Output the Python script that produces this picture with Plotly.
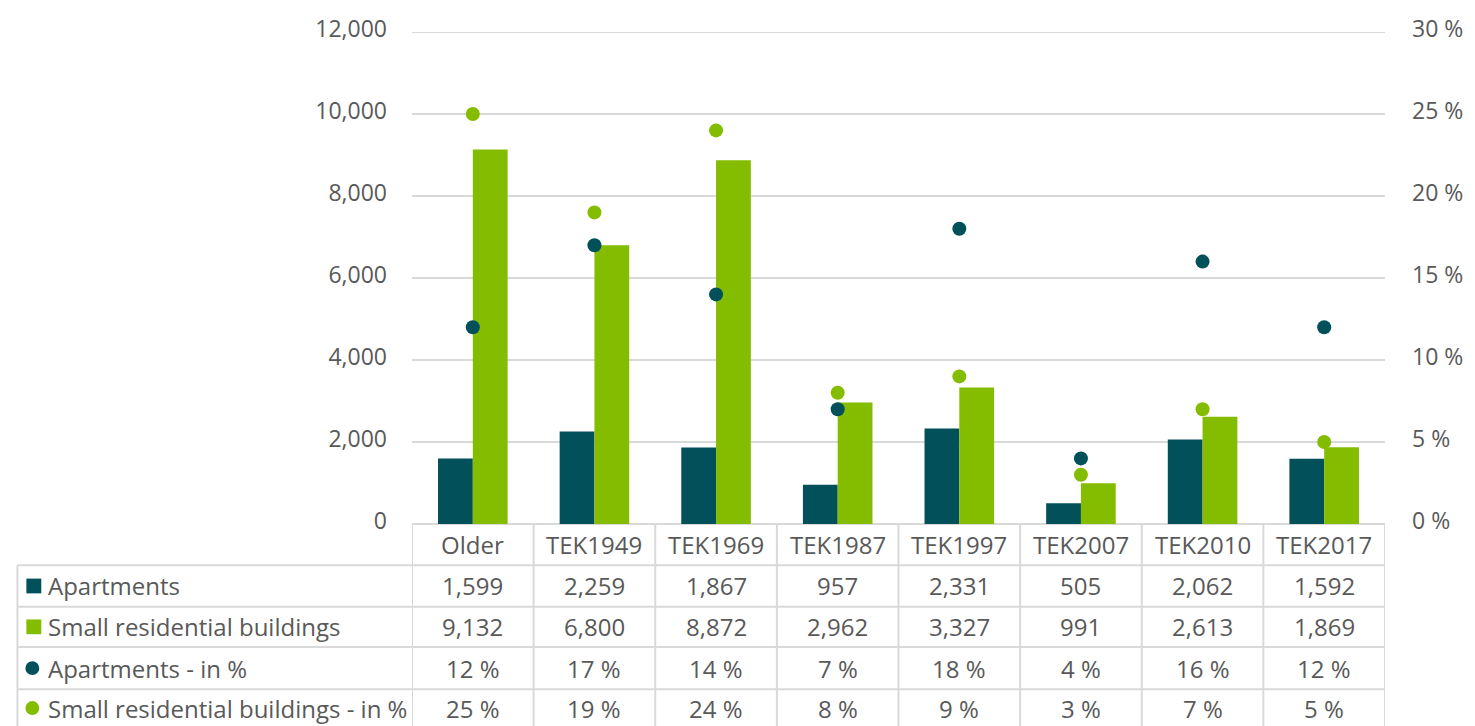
import plotly.graph_objects as go

# ---- data -------------------------------------------------------------
categories = ["Older", "TEK1949", "TEK1969", "TEK1987", "TEK1997", "TEK2007", "TEK2010", "TEK2017"]
apartments = [1599, 2259, 1867, 957, 2331, 505, 2062, 1592]
small_residential = [9132, 6800, 8872, 2962, 3327, 991, 2613, 1869]
apartments_pct = [12, 17, 14, 7, 18, 4, 16, 12]
small_residential_pct = [25, 19, 24, 8, 9, 3, 7, 5]

series_names = ["Apartments", "Small residential buildings",
                "Apartments - in %", "Small residential buildings - in %"]

# ---- style ------------------------------------------------------------
DARK = "#02505A"
GREEN = "#84BC00"
TEXT = "#595959"
GRID = "#D9D9D9"
FONT = "Open Sans"
FS = 24
TICK_FS = 23
Y_MAX = 12000

W, H = 1475, 726
L, R, T, B = 412, 84, 24, 202
PW, PH = W - L - R, H - T - B


def px2x(px):
    return (px - L) / PW


def px2y(py):
    return (H - B - py) / PH


n = len(categories)
xs = list(range(n))

fig = go.Figure()
fig.add_trace(go.Bar(x=xs, y=apartments, name=series_names[0],
                     marker=dict(color=DARK, line=dict(width=0))))
fig.add_trace(go.Bar(x=xs, y=small_residential, name=series_names[1],
                     marker=dict(color=GREEN, line=dict(width=0))))
fig.add_trace(go.Scatter(x=xs, y=apartments_pct, name=series_names[2], yaxis="y2",
                         mode="markers", marker=dict(color=DARK, size=14, line=dict(width=0))))
fig.add_trace(go.Scatter(x=xs, y=small_residential_pct, name=series_names[3], yaxis="y2",
                         mode="markers", marker=dict(color=GREEN, size=14, line=dict(width=0))))

# ---- data table below the plot ----------------------------------------
table_left = 15
row_lines = [H - B, 566, 608, 649, 692, 730]  # pixel rows of the table
row_centers = [(row_lines[i] + row_lines[i + 1]) / 2 for i in range(len(row_lines) - 1)]
line_style = dict(color=GRID, width=2)

shapes = []
# top gridline (edge of the value axis range)
shapes.append(dict(type="line", xref="paper", yref="y", x0=0, x1=1, y0=Y_MAX, y1=Y_MAX,
                   line=line_style, layer="below"))
# horizontal rules
shapes.append(dict(type="line", xref="paper", yref="paper", x0=0, x1=1,
                   y0=px2y(row_lines[0]), y1=px2y(row_lines[0]), line=line_style, layer="below"))
for py in row_lines[1:5]:
    shapes.append(dict(type="line", xref="paper", yref="paper", x0=px2x(table_left), x1=1,
                       y0=px2y(py), y1=px2y(py), line=line_style))
# vertical rules: first column edge, category separators
shapes.append(dict(type="line", xref="paper", yref="paper", x0=px2x(table_left), x1=px2x(table_left),
                   y0=px2y(row_lines[1]), y1=px2y(H + 5), line=line_style))
for i in range(n + 1):
    shapes.append(dict(type="line", xref="x", yref="paper", x0=i - 0.5, x1=i - 0.5,
                       y0=px2y(row_lines[0]), y1=px2y(H + 5), line=line_style))

# legend keys in the first column
key_colors = [DARK, GREEN, DARK, GREEN]
key_kinds = ["rect", "rect", "circle", "circle"]
for k in range(4):
    cy = row_centers[k + 1]
    half = 7.5 if key_kinds[k] == "rect" else 7
    cx = 31.5 if key_kinds[k] == "rect" else 30
    shapes.append(dict(type=key_kinds[k], xref="paper", yref="paper",
                       x0=px2x(cx - half), x1=px2x(cx + half),
                       y0=px2y(cy + half), y1=px2y(cy - half),
                       fillcolor=key_colors[k], line=dict(width=0)))

annotations = []
fnt = dict(family=FONT, size=FS, color=TEXT)
tick_fnt = dict(family=FONT, size=TICK_FS, color=TEXT)
for i, c in enumerate(categories):
    annotations.append(dict(x=i, y=px2y(row_centers[0]), xref="x", yref="paper", text=c,
                            showarrow=False, font=fnt, xanchor="center", yanchor="middle"))

rows = [
    [f"{v:,}" for v in apartments],
    [f"{v:,}" for v in small_residential],
    [f"{v} %" for v in apartments_pct],
    [f"{v} %" for v in small_residential_pct],
]
for r, vals in enumerate(rows):
    cy = px2y(row_centers[r + 1])
    annotations.append(dict(x=px2x(44), y=cy, xref="paper", yref="paper", text=series_names[r],
                            showarrow=False, font=fnt, xanchor="left", yanchor="middle"))
    for i, v in enumerate(vals):
        annotations.append(dict(x=i, y=cy, xref="x", yref="paper", text=v,
                                showarrow=False, font=fnt, xanchor="center", yanchor="middle"))

fig.update_layout(
    width=W, height=H,
    margin=dict(l=L, r=R, t=T, b=B, pad=0),
    paper_bgcolor="white", plot_bgcolor="white",
    font=fnt,
    showlegend=False,
    barmode="group", bargap=0.428, bargroupgap=0,
    xaxis=dict(range=[-0.5, n - 0.5], showticklabels=False, showgrid=False,
               zeroline=False, showline=False, ticks=""),
    yaxis=dict(range=[0, Y_MAX], dtick=2000, tickformat=",", showgrid=True, gridcolor=GRID,
               gridwidth=2, zeroline=False, showline=False, ticks="", ticklabelstandoff=24,
               ticklabelshift=-3, tickfont=tick_fnt),
    yaxis2=dict(range=[0, 30], dtick=5, ticksuffix=" %", overlaying="y", side="right",
                showgrid=False, zeroline=False, showline=False, ticks="", ticklabelstandoff=26,
                ticklabelshift=-3, tickfont=tick_fnt),
    shapes=shapes,
    annotations=annotations,
)

fig.write_html("out.html")
